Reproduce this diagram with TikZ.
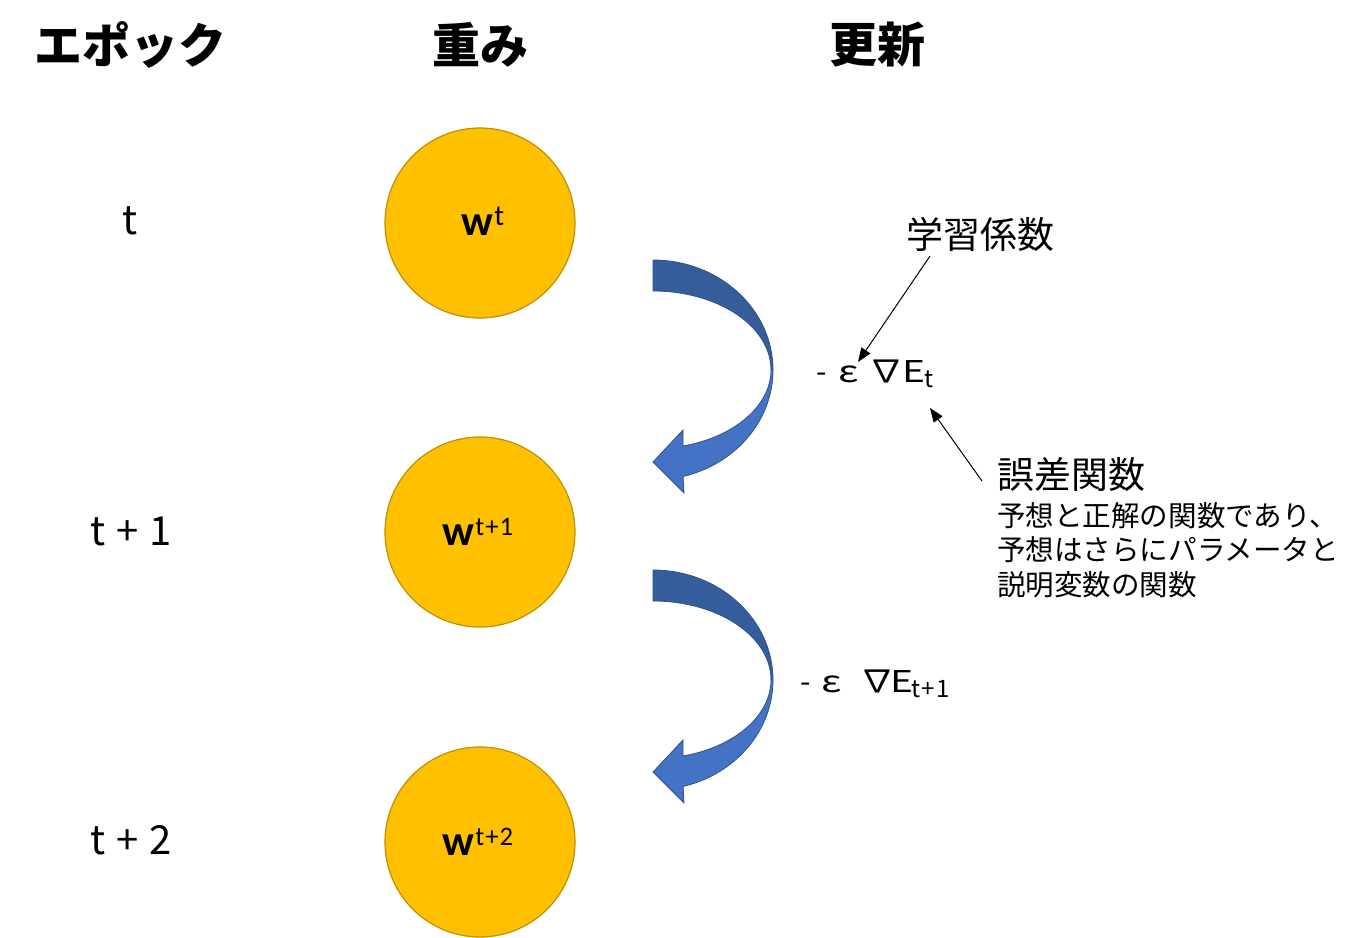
\documentclass[tikz,border=0pt]{standalone}
\usepackage{fontspec}
\usepackage{graphicx}
\setmainfont{Noto Sans CJK JP}
\newfontfamily\calib{Carlito}
\usetikzlibrary{arrows.meta}
\definecolor{gold}{RGB}{255,192,0}
\definecolor{goldline}{RGB}{191,144,0}
\definecolor{bluedark}{RGB}{53,93,155}
\definecolor{bluelight}{RGB}{68,114,196}
\definecolor{blueline}{RGB}{47,82,143}
\newcommand{\wsup}[1]{\raisebox{7.5pt}{\mdseries\fontsize{20}{22}\selectfont #1}}
\newcommand{\fsub}[1]{\raisebox{-3.8pt}{\fontsize{18}{20}\selectfont #1}}
\newcommand{\feps}{\scalebox{1.35}[1]{ε}}
\newcommand{\fnab}{\scalebox{1.2}[1.05]{∇}}
\newcommand{\fE}{\scalebox{1.3}[1]{E}}
\begin{document}
\begin{tikzpicture}[x=0.75pt,y=-0.75pt,
  wnode/.style={circle,fill=gold,draw=goldline,line width=0.9pt,minimum size=142.5pt,inner sep=0pt},
  hdr/.style={inner sep=0pt,font=\bfseries\fontsize{36}{40}\selectfont},
  rowl/.style={inner sep=0pt,font=\fontsize{30}{34}\selectfont},
  wtxt/.style={inner sep=0pt,anchor=base west,font=\calib\bfseries\fontsize{32}{36}\selectfont},
  frm/.style={inner sep=0pt,anchor=base west,font=\fontsize{22.5}{26}\selectfont},
  lbl/.style={inner sep=0pt,anchor=west,font=\fontsize{27.7}{30}\selectfont},
  desc/.style={inner sep=0pt,anchor=west,font=\fontsize{21.4}{24}\selectfont},
  ptr/.style={line width=0.75pt,-{Triangle[length=10.5pt,width=8pt]}},
  darkpart/.style={fill=bluedark,draw=blueline,line width=0.6pt},
  lightpart/.style={fill=bluelight,draw=blueline,line width=0.6pt}]
\useasboundingbox (0,0) rectangle (1364,938);
% headers
\node[hdr] (h1) at (130,45) {エポック};
\node[hdr] (h2) at (480,45) {重み};
\node[hdr] (h3) at (877,45) {更新};
% row labels
\node[rowl] (r1) at (130,221) {t};
\node[rowl] (r2) at (131,531) {t\kern1.5pt{} + \kern1.5pt1};
\node[rowl] (r3) at (131,840) {t\kern1.5pt{} + \kern1.5pt2};
% weight circles
\node[wnode] (w1) at (480,223) {};
\node[wnode] (w2) at (480,532) {};
\node[wnode] (w3) at (480,842) {};
\node[wtxt] (wt1) at (461,235) {w\kern1pt\raisebox{7.5pt}{\mdseries\fontsize{22}{24}\selectfont t}};
\node[wtxt] (wt2) at (442,545) {w\kern1pt\wsup{t\kern0.8pt+\kern0.8pt1}};
\node[wtxt] (wt3) at (442,855) {w\kern1pt\wsup{t\kern0.8pt+\kern0.8pt2}};
% curved block arrows
\foreach \dy in {0,310}{
\begin{scope}[shift={(0,\dy)}]
\path[darkpart] (653,260) arc[start angle=-90,end angle=0,x radius=120,y radius=110]
  -- (771,370) arc[start angle=0,end angle=-90,x radius=118,y radius=79] -- cycle;
\path[lightpart] (773,370) arc[start angle=0,end angle=75.5,x radius=120,y radius=110]
  -- (684,493) -- (653,462) -- (683,430) -- (683,446)
  arc[start angle=75.3,end angle=0,x radius=118,y radius=79] -- cycle;
\end{scope}}
% update formulas
\node[frm] (f1) at (816,382) {\rlap{-}\hspace{16.5pt}\rlap{\feps}\hspace{22.5pt}\rlap{\fnab}\hspace{25.5pt}\rlap{\fE}\hspace{16.5pt}\fsub{t}};
\node[frm] (f2) at (800,692) {\rlap{-}\hspace{15.75pt}\rlap{\feps}\hspace{29pt}\rlap{\fnab}\hspace{23pt}\rlap{\fE}\hspace{15.75pt}\fsub{t\kern1pt+\kern1pt1}};
% annotations
\node[lbl] (lr) at (906,234) {学習係数};
\node[lbl] (ef) at (997,474) {誤差関数};
\node[desc] (d1) at (997,516) {予想と正解の関数であり、};
\node[desc] (d2) at (997,550) {予想はさらにパラメータと};
\node[desc] (d3) at (997,585) {説明変数の関数};
\coordinate (lrs) at (930,256);
\coordinate (eps) at (858,362);
\coordinate (efs) at (982,481);
\coordinate (Es) at (930,408);
\draw[ptr] (lrs) -- (eps);
\draw[ptr] (efs) -- (Es);
\end{tikzpicture}
\end{document}
